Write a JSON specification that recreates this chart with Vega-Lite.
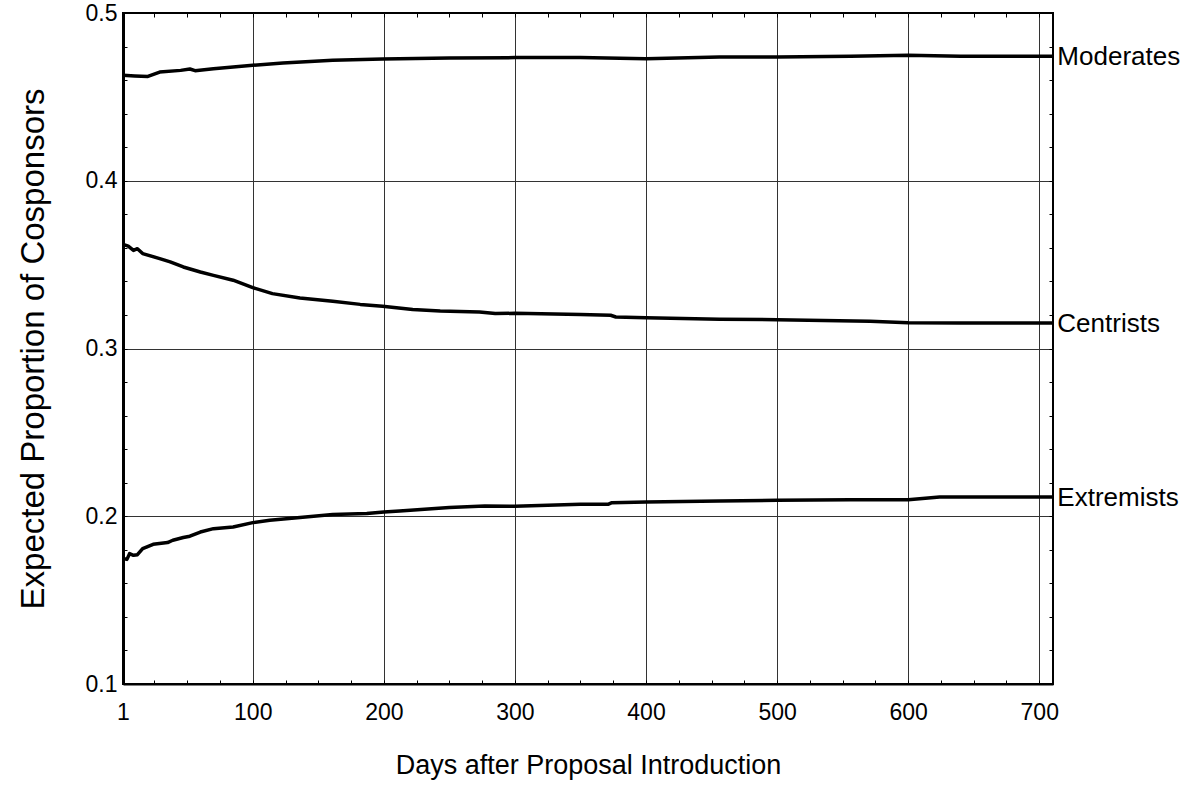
{
  "$schema": "https://vega.github.io/schema/vega-lite/v6.json",
  "autosize": {"type": "none"},
  "padding": {"left": 123, "top": 13, "right": 141, "bottom": 119},
  "width": 930,
  "height": 671,
  "background": "white",
  "config": {
    "view": {"stroke": "black", "strokeWidth": 2},
    "font": "Liberation Sans",
    "axis": {"labelFont": "Liberation Sans", "titleFont": "Liberation Sans", "labelColor": "black", "titleColor": "black", "titleFontWeight": "normal"}
  },
  "data": {"values": [
    {"series": "Moderates", "day": 1, "value": 0.4629},
    {"series": "Moderates", "day": 10, "value": 0.4625},
    {"series": "Moderates", "day": 20, "value": 0.4622},
    {"series": "Moderates", "day": 29, "value": 0.4648},
    {"series": "Moderates", "day": 45, "value": 0.4658},
    {"series": "Moderates", "day": 52, "value": 0.4666},
    {"series": "Moderates", "day": 56, "value": 0.4656},
    {"series": "Moderates", "day": 70, "value": 0.4668},
    {"series": "Moderates", "day": 85, "value": 0.4678},
    {"series": "Moderates", "day": 100, "value": 0.4688},
    {"series": "Moderates", "day": 123, "value": 0.4702},
    {"series": "Moderates", "day": 161, "value": 0.4718},
    {"series": "Moderates", "day": 199, "value": 0.4726},
    {"series": "Moderates", "day": 250, "value": 0.4732},
    {"series": "Moderates", "day": 300, "value": 0.4734},
    {"series": "Moderates", "day": 350, "value": 0.4734},
    {"series": "Moderates", "day": 400, "value": 0.4728},
    {"series": "Moderates", "day": 456, "value": 0.4738},
    {"series": "Moderates", "day": 500, "value": 0.4738},
    {"series": "Moderates", "day": 556, "value": 0.4742},
    {"series": "Moderates", "day": 600, "value": 0.4748},
    {"series": "Moderates", "day": 640, "value": 0.4742},
    {"series": "Moderates", "day": 710, "value": 0.4742},
    {"series": "Centrists", "day": 1, "value": 0.3621},
    {"series": "Centrists", "day": 5, "value": 0.361},
    {"series": "Centrists", "day": 9, "value": 0.3585},
    {"series": "Centrists", "day": 12, "value": 0.3595},
    {"series": "Centrists", "day": 16, "value": 0.3566},
    {"series": "Centrists", "day": 29, "value": 0.3536},
    {"series": "Centrists", "day": 37, "value": 0.3516},
    {"series": "Centrists", "day": 47, "value": 0.3486},
    {"series": "Centrists", "day": 60, "value": 0.3456},
    {"series": "Centrists", "day": 70, "value": 0.3436},
    {"series": "Centrists", "day": 85, "value": 0.3407},
    {"series": "Centrists", "day": 100, "value": 0.3363},
    {"series": "Centrists", "day": 115, "value": 0.3327},
    {"series": "Centrists", "day": 136, "value": 0.3301},
    {"series": "Centrists", "day": 161, "value": 0.3281},
    {"series": "Centrists", "day": 182, "value": 0.3263},
    {"series": "Centrists", "day": 199, "value": 0.3252},
    {"series": "Centrists", "day": 222, "value": 0.3232},
    {"series": "Centrists", "day": 243, "value": 0.3224},
    {"series": "Centrists", "day": 273, "value": 0.3218},
    {"series": "Centrists", "day": 285, "value": 0.3208},
    {"series": "Centrists", "day": 300, "value": 0.321},
    {"series": "Centrists", "day": 350, "value": 0.3202},
    {"series": "Centrists", "day": 373, "value": 0.3198},
    {"series": "Centrists", "day": 377, "value": 0.3188},
    {"series": "Centrists", "day": 400, "value": 0.3184},
    {"series": "Centrists", "day": 456, "value": 0.3174},
    {"series": "Centrists", "day": 500, "value": 0.3172},
    {"series": "Centrists", "day": 571, "value": 0.3162},
    {"series": "Centrists", "day": 600, "value": 0.3154},
    {"series": "Centrists", "day": 640, "value": 0.3152},
    {"series": "Centrists", "day": 710, "value": 0.3152},
    {"series": "Extremists", "day": 1, "value": 0.1748},
    {"series": "Extremists", "day": 4, "value": 0.1743},
    {"series": "Extremists", "day": 6, "value": 0.1777},
    {"series": "Extremists", "day": 9, "value": 0.1767},
    {"series": "Extremists", "day": 12, "value": 0.1771},
    {"series": "Extremists", "day": 16, "value": 0.1807},
    {"series": "Extremists", "day": 24, "value": 0.1833},
    {"series": "Extremists", "day": 35, "value": 0.1843},
    {"series": "Extremists", "day": 39, "value": 0.1857},
    {"series": "Extremists", "day": 47, "value": 0.1873},
    {"series": "Extremists", "day": 52, "value": 0.1881},
    {"series": "Extremists", "day": 57, "value": 0.1897},
    {"series": "Extremists", "day": 60, "value": 0.1906},
    {"series": "Extremists", "day": 70, "value": 0.1926},
    {"series": "Extremists", "day": 85, "value": 0.1936},
    {"series": "Extremists", "day": 100, "value": 0.1962},
    {"series": "Extremists", "day": 113, "value": 0.1976},
    {"series": "Extremists", "day": 136, "value": 0.1992},
    {"series": "Extremists", "day": 161, "value": 0.201},
    {"series": "Extremists", "day": 187, "value": 0.2016},
    {"series": "Extremists", "day": 200, "value": 0.2026},
    {"series": "Extremists", "day": 212, "value": 0.2032},
    {"series": "Extremists", "day": 250, "value": 0.2052},
    {"series": "Extremists", "day": 277, "value": 0.2061},
    {"series": "Extremists", "day": 300, "value": 0.2059},
    {"series": "Extremists", "day": 350, "value": 0.2071},
    {"series": "Extremists", "day": 371, "value": 0.2071},
    {"series": "Extremists", "day": 374, "value": 0.2081},
    {"series": "Extremists", "day": 400, "value": 0.2085},
    {"series": "Extremists", "day": 456, "value": 0.2091},
    {"series": "Extremists", "day": 500, "value": 0.2095},
    {"series": "Extremists", "day": 556, "value": 0.2099},
    {"series": "Extremists", "day": 600, "value": 0.2099},
    {"series": "Extremists", "day": 624, "value": 0.2115},
    {"series": "Extremists", "day": 710, "value": 0.2115}
  ]},
  "resolve": {"axis": {"x": "independent", "y": "independent"}},
  "layer": [
    {
      "mark": {"type": "line", "color": "black", "strokeWidth": 3.5, "strokeJoin": "round", "strokeCap": "butt"},
      "encoding": {
        "x": {
          "field": "day", "type": "quantitative",
          "scale": {"domain": [1, 710.5], "nice": false, "zero": false},
          "axis": {
            "orient": "bottom",
            "title": "Days after Proposal Introduction",
            "titleFontSize": 27, "titlePadding": 28,
            "values": [1, 25, 50, 75, 100, 125, 150, 175, 200, 225, 250, 275, 300, 325, 350, 375, 400, 425, 450, 475, 500, 525, 550, 575, 600, 625, 650, 675, 700],
            "labelExpr": "(datum.value == 1 || datum.value % 100 == 0) ? datum.label : ''",
            "labelFontSize": 23, "labelPadding": 21, "labelFlush": false, "labelOverlap": false,
            "tickSize": -4, "tickColor": "black", "tickWidth": 1,
            "domain": true, "domainColor": "black", "domainWidth": 2,
            "grid": true, "gridColor": "#333333", "gridWidth": 1,
            "gridOpacity": {"condition": {"test": "datum.value % 100 == 0", "value": 1}, "value": 0}
          }
        },
        "y": {
          "field": "value", "type": "quantitative",
          "scale": {"domain": [0.1, 0.5], "nice": false, "zero": false},
          "axis": {
            "orient": "left",
            "title": "Expected Proportion of Cosponsors",
            "titleFontSize": 33, "titlePadding": 35,
            "values": [0.1, 0.12, 0.14, 0.16, 0.18, 0.2, 0.22, 0.24, 0.26, 0.28, 0.3, 0.32, 0.34, 0.36, 0.38, 0.4, 0.42, 0.44, 0.46, 0.48, 0.5],
            "labelExpr": "abs(datum.value * 10 - round(datum.value * 10)) < 0.001 ? format(datum.value, '.1f') : ''",
            "labelFontSize": 23, "labelPadding": 10, "labelFlush": false, "labelOverlap": false,
            "tickSize": -4, "tickColor": "black", "tickWidth": 1,
            "domain": true, "domainColor": "black", "domainWidth": 3,
            "grid": true, "gridColor": "#333333", "gridWidth": 1,
            "gridOpacity": {"condition": {"test": "abs(datum.value * 10 - round(datum.value * 10)) < 0.001 && datum.value > 0.15 && datum.value < 0.45", "value": 1}, "value": 0}
          }
        },
        "detail": {"field": "series"}
      }
    },
    {
      "mark": {"type": "text", "align": "left", "baseline": "middle", "dx": 5, "dy": 1, "fontSize": 26, "font": "Liberation Sans", "color": "black"},
      "encoding": {
        "x": {
          "aggregate": "max", "field": "day", "type": "quantitative",
          "axis": {
            "orient": "top", "title": null, "labels": false,
            "values": [25, 50, 75, 100, 125, 150, 175, 200, 225, 250, 275, 300, 325, 350, 375, 400, 425, 450, 475, 500, 525, 550, 575, 600, 625, 650, 675, 700],
            "tickSize": -4, "tickColor": "black", "tickWidth": 1, "domain": false, "grid": false
          }
        },
        "y": {
          "aggregate": {"argmax": "day"}, "field": "value", "type": "quantitative",
          "axis": {
            "orient": "right", "title": null, "labels": false,
            "values": [0.12, 0.14, 0.16, 0.18, 0.2, 0.22, 0.24, 0.26, 0.28, 0.3, 0.32, 0.34, 0.36, 0.38, 0.4, 0.42, 0.44, 0.46, 0.48],
            "tickSize": -4, "tickColor": "black", "tickWidth": 1, "domain": false, "grid": false
          }
        },
        "text": {"field": "series"}
      }
    }
  ]
}
